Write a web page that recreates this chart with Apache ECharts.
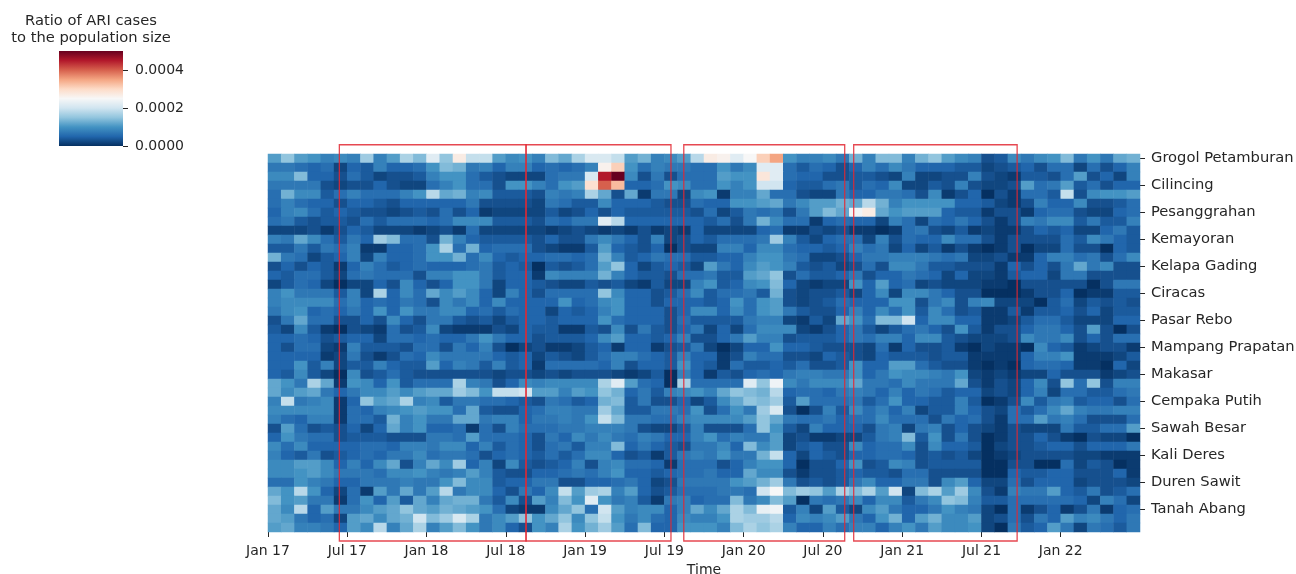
<!DOCTYPE html>
<html>
<head>
<meta charset="utf-8">
<title>ARI cases heatmap</title>
<script src="https://cdn.jsdelivr.net/npm/echarts@6/dist/echarts.min.js"></script>
<style>
  html, body { margin: 0; padding: 0; background: #fff; }
  #chart { width: 1296px; height: 574px; }
</style>
</head>
<body>
<div id="chart"></div>
<script>
// tick labels
const monthLabels = ["Jan 17", "Jul 17", "Jan 18", "Jul 18", "Jan 19", "Jul 19", "Jan 20", "Jul 20", "Jan 21", "Jul 21", "Jan 22"];
const rowLabels = ["Grogol Petamburan", "Cilincing", "Pesanggrahan", "Kemayoran", "Kelapa Gading", "Ciracas", "Pasar Rebo", "Mampang Prapatan", "Makasar", "Cempaka Putih", "Sawah Besar", "Kali Deres", "Duren Sawit", "Tanah Abang"];
const colorTicks = [0, 0.0002, 0.0004];
const rdBu = ["#053061", "#2166ac", "#4393c3", "#92c5de", "#d1e5f0", "#f7f7f7", "#fddbc7", "#f4a582", "#d6604d", "#b2182b", "#67001f"];

// red boxes, in month columns from Jan 17
const boxStart = [5.4, 19.53, 31.47, 44.33];
const boxEnd = [19.53, 30.5, 43.65, 56.7];

// one list per district, one value per month, in units of 1e-5
const r0 = [11,15,11,10,8,9,8,16,8,11,17,14,22,15,27,19,19,11,9,10,8,14, 12,17,21,21,19,11,13,8,9,11,18,27,26,22,25,31,35,10,8,8,9,7, 13,8,14,14,8,13,15,11,9,8,3,4,9,7,9,10,14,7,10,7,12,13];
const r1 = [7,7,6,5,6,2,5,4,8,5,5,6,10,14,13,7,8,5,8,8,5,6, 5,6,8,26,31,10,6,8,7,7,6,6,10,7,9,22,22,6,4,6,5,3, 5,8,6,9,7,5,5,5,4,4,2,3,4,5,3,6,6,2,6,3,5,8];
const r2 = [9,9,14,5,5,3,6,4,2,3,3,4,8,10,10,6,4,3,2,2,2,6, 7,7,21,45,50,9,3,7,3,6,6,6,11,10,10,28,22,6,5,5,3,3, 4,4,3,2,8,2,2,3,3,8,3,2,1,4,4,3,6,11,3,5,2,8];
const r3 = [7,7,7,7,3,2,3,3,5,3,2,2,6,8,10,6,6,3,10,10,8,6, 10,11,29,40,33,5,5,6,10,9,6,6,10,8,10,20,20,5,4,4,6,7, 4,6,5,9,2,2,4,3,8,3,2,2,3,11,6,7,11,4,6,3,5,5];
const r4 = [6,13,9,9,4,6,8,6,6,6,8,10,18,12,13,8,9,4,4,4,3,8, 7,8,17,12,3,12,1,7,7,2,9,10,1,8,8,12,6,6,3,2,2,7, 5,5,7,7,6,3,9,1,3,5,0,3,1,6,6,4,19,3,9,10,10,11];
const r5 = [6,8,6,5,5,3,5,5,4,3,5,5,5,5,5,7,3,3,3,3,2,7, 6,4,4,9,5,5,5,4,3,3,6,5,5,10,10,11,12,7,9,11,11,13, 12,18,13,8,10,10,10,10,5,5,4,2,1,3,8,5,5,9,3,3,4,6];
const r6 = [5,8,9,6,4,5,4,3,3,2,3,4,3,6,3,5,1,2,2,2,2,4, 2,3,5,3,5,4,4,4,4,4,3,6,2,4,7,6,7,3,7,11,14,12, 24,27,12,10,11,11,11,5,4,4,1,3,3,1,5,6,6,3,2,2,5,6];
const r7 = [6,7,4,3,4,4,3,6,4,6,6,6,5,6,9,9,9,4,4,4,3,6, 5,7,7,22,18,5,5,5,5,5,5,4,6,3,7,13,9,6,6,1,5,6, 5,5,2,8,6,2,6,5,7,5,3,1,3,8,7,9,9,4,7,4,4,8];
const r8 = [2,2,2,3,1,3,5,4,2,2,2,1,2,3,1,6,2,2,2,2,2,1, 2,3,2,1,2,1,3,1,2,1,5,2,2,2,2,5,6,1,1,3,2,3, 1,1,0,1,6,7,3,2,4,1,2,1,1,3,5,4,5,2,2,5,7,4];
const r9 = [8,7,12,9,6,4,7,5,16,14,6,6,3,13,8,5,4,4,4,4,3,5, 3,3,7,9,7,5,3,8,2,3,5,4,6,6,6,7,16,8,4,2,5,6, 6,2,8,3,6,5,5,9,6,6,3,1,3,3,3,3,6,4,9,7,5,4];
const r10 = [4,4,7,4,7,6,8,1,1,5,5,6,10,17,6,13,5,6,6,6,3,2, 1,1,4,11,5,4,3,5,0,3,2,2,8,8,5,9,9,6,5,5,4,5, 8,6,7,2,5,2,4,1,3,1,0,1,3,0,2,2,6,3,3,0,5,4];
const r11 = [13,7,6,2,4,5,8,2,8,5,5,6,10,10,13,6,9,5,4,5,5,6, 6,5,6,13,8,4,5,7,6,6,4,4,5,5,8,10,10,7,6,2,2,3, 5,7,7,8,8,8,7,6,7,2,2,3,1,1,5,8,8,6,7,3,6,9];
const r12 = [3,5,3,5,4,1,5,8,6,4,5,6,5,5,5,6,7,4,5,4,0,4, 3,4,6,11,15,5,2,4,5,4,2,11,7,5,9,11,10,8,4,3,4,2, 3,6,3,9,9,7,4,4,3,3,3,1,5,3,5,3,7,12,7,9,3,3];
const r13 = [5,4,6,6,4,2,6,7,6,6,6,3,8,8,10,10,7,4,5,5,1,9, 8,8,8,13,8,5,4,4,3,6,6,7,4,4,11,12,15,3,6,4,4,5, 7,3,5,5,7,6,5,2,5,2,2,1,4,5,5,2,7,7,3,3,3,3];
const r14 = [2,4,6,5,2,0,2,2,5,3,9,5,3,5,10,10,7,2,5,5,4,3, 2,2,4,3,4,2,1,4,2,2,8,10,4,5,9,10,14,5,2,1,2,2, 10,5,11,5,6,2,3,2,2,2,1,1,0,3,3,3,3,3,0,3,7,7];
const r15 = [8,10,7,7,7,4,8,2,17,5,9,6,12,9,11,9,5,2,8,5,3,6, 6,6,6,15,9,5,5,3,4,6,9,4,6,6,7,4,13,3,2,3,3,4, 2,5,9,2,9,9,7,5,3,3,0,0,0,1,3,3,5,0,1,1,4,4];
const r16 = [8,9,9,9,9,6,8,5,6,5,7,6,3,9,7,9,5,9,5,5,5,5, 10,5,6,9,10,5,5,3,5,5,5,4,5,10,6,10,11,3,2,3,4,6, 5,5,5,10,10,3,7,9,3,8,9,2,2,2,0,4,6,2,4,3,4,3];
const r17 = [7,9,10,5,6,5,7,5,10,5,10,7,7,9,9,5,6,4,6,5,5,2, 5,4,5,8,10,5,5,5,3,5,9,9,5,9,6,10,11,7,4,3,3,5, 8,5,9,6,10,4,9,6,3,4,1,1,4,1,4,4,5,3,5,2,4,4];
const r18 = [3,7,12,6,6,3,3,5,3,9,5,3,7,7,4,3,4,2,4,5,5,4, 5,5,5,10,6,5,5,5,3,6,4,4,4,4,7,8,8,2,1,4,2,12, 10,6,14,14,20,5,9,9,5,5,1,1,2,4,6,6,4,2,2,2,5,5];
const r19 = [4,2,9,4,1,0,3,2,1,6,3,4,9,2,1,1,1,3,2,5,4,4, 1,1,4,3,9,3,7,4,3,5,7,2,5,2,6,9,9,9,2,1,3,5, 7,4,2,4,6,7,5,3,10,4,1,3,3,5,7,7,5,3,11,3,0,3];
const r20 = [5,5,6,5,3,4,5,5,2,6,6,5,6,5,5,7,10,7,5,5,3,4, 4,4,5,9,11,5,5,4,5,8,3,3,5,7,11,8,8,3,4,4,4,5, 7,6,8,8,5,9,9,4,3,2,2,2,3,9,7,7,9,3,5,3,6,6];
const r21 = [5,3,6,6,2,1,8,4,4,4,3,6,6,3,7,5,8,3,0,2,3,1, 1,2,4,5,1,5,5,1,3,4,7,2,0,2,5,5,10,5,5,4,3,3, 3,2,6,1,5,3,3,4,1,0,2,1,1,0,9,5,4,1,2,3,3,1];
const r22 = [5,5,5,5,1,2,7,3,1,3,6,5,9,7,7,7,7,5,4,5,2,4, 3,2,4,6,8,8,6,5,4,8,5,5,1,3,8,6,6,3,3,2,5,4, 3,2,5,4,4,4,3,4,4,1,1,1,1,5,8,8,10,1,1,1,2,4];
const r23 = [5,5,10,4,8,2,4,4,8,5,4,4,11,5,8,7,4,8,4,5,1,6, 6,6,6,5,8,3,5,5,4,10,5,4,1,6,4,4,5,4,6,3,3,4, 10,5,5,11,11,6,4,3,3,1,0,1,0,5,6,6,5,1,1,0,5,2];
const r24 = [5,4,9,4,2,0,9,3,4,6,4,3,3,3,3,3,3,2,3,3,2,3, 2,3,3,3,2,1,2,4,0,8,5,1,4,3,5,6,5,7,8,8,7,7, 10,5,7,10,9,9,8,7,10,2,1,2,1,2,2,5,3,3,3,1,2,3];
const r25 = [12,10,7,17,12,1,10,9,5,10,4,6,6,6,17,8,7,3,5,9,8,9, 9,9,9,17,22,11,6,5,0,17,6,6,6,6,22,15,24,9,7,9,9,9, 12,7,7,6,9,7,7,7,12,3,1,3,2,5,9,3,15,6,15,3,8,8];
const r26 = [12,9,11,12,7,5,7,9,9,11,9,11,12,12,16,14,10,19,19,20,11,11, 8,11,10,15,13,5,7,4,8,9,10,8,12,15,14,13,18,5,6,6,5,7, 8,7,5,8,5,7,6,4,5,5,2,3,2,5,8,2,6,6,4,4,6,7];
const r27 = [8,19,7,8,9,1,5,15,11,12,17,8,9,4,7,7,6,6,5,4,3,7, 6,4,5,13,14,4,7,3,3,5,2,4,9,12,15,14,16,4,11,6,6,6, 7,4,6,10,5,5,4,4,8,4,0,1,3,9,4,7,8,4,5,5,3,6];
const r28 = [9,9,9,9,9,1,6,5,8,9,10,11,10,10,6,12,4,3,3,5,6,8, 8,7,7,16,12,4,4,7,7,6,10,3,6,10,7,16,21,3,0,3,8,4, 9,6,8,5,8,2,4,4,8,5,3,2,6,4,6,9,12,8,7,7,8,8];
const r29 = [8,6,5,8,8,1,6,6,4,13,8,10,7,7,12,12,7,8,8,5,7,7, 8,7,10,19,14,7,7,6,6,8,9,9,9,9,11,15,12,7,6,6,7,5, 6,6,9,6,6,6,3,7,5,6,3,1,6,6,11,7,8,6,3,3,3,6];
const r30 = [3,11,6,3,4,3,5,2,5,12,8,10,5,5,6,1,6,3,8,6,6,6, 7,7,8,8,8,7,3,2,2,4,8,3,3,3,6,15,10,4,2,8,5,5, 5,3,7,8,2,7,8,3,5,3,2,1,3,2,2,2,7,4,4,6,6,11];
const r31 = [5,10,7,6,6,3,4,4,4,3,3,3,7,7,6,11,6,6,6,5,3,7, 5,9,7,9,7,6,8,7,5,5,8,10,6,8,7,7,11,2,3,1,1,2, 2,4,7,8,14,4,10,3,7,3,0,1,3,3,5,3,1,0,3,2,2,0];
const r32 = [9,6,9,5,5,5,5,6,6,5,8,8,7,9,9,5,8,4,6,5,3,6, 7,4,8,8,14,5,7,5,4,3,7,7,9,5,14,9,11,2,4,5,3,3, 9,5,6,6,9,3,9,5,5,4,0,2,3,3,4,5,5,3,5,5,5,7];
const r33 = [8,5,4,7,3,4,5,6,5,7,7,9,6,7,7,6,3,5,6,5,4,6, 4,6,9,9,5,3,4,1,4,7,8,7,10,7,7,13,19,5,2,5,4,3, 5,5,6,6,5,3,4,3,4,2,0,1,2,3,3,3,3,2,2,1,1,1];
const r34 = [9,9,11,11,9,5,8,5,9,12,3,8,12,9,16,5,8,2,9,4,3,4, 5,8,3,8,9,6,6,5,1,6,6,6,3,5,8,10,10,5,0,3,3,5, 10,3,4,9,8,3,4,4,4,4,0,0,3,3,0,0,6,2,4,3,0,1];
const r35 = [9,9,10,11,9,7,7,7,6,9,9,10,8,7,8,11,8,4,3,3,5,5, 6,7,6,8,10,5,5,4,5,6,6,7,5,5,12,9,9,3,1,3,3,4, 5,4,4,3,6,6,3,3,3,3,0,0,5,4,4,5,5,3,3,3,5,1];
const r36 = [6,6,10,8,7,5,5,7,7,7,8,7,7,10,14,9,9,4,5,5,7,7, 3,3,5,5,6,7,5,2,3,7,7,7,7,10,11,13,16,7,3,4,3,4, 7,9,5,5,7,7,3,9,11,5,2,2,6,3,5,5,5,2,3,3,3,2];
const r37 = [12,10,18,10,5,2,6,1,11,7,12,7,11,18,7,9,9,5,3,7,5,9, 19,11,16,17,8,11,5,3,4,6,6,6,7,7,6,20,25,14,16,15,11,17, 14,17,11,20,2,14,17,11,16,9,3,1,8,7,7,11,5,4,7,3,4,6];
const r38 = [14,10,11,7,7,1,6,10,5,11,4,12,8,12,13,13,7,4,9,3,11,8, 14,10,22,10,7,8,4,1,7,8,5,6,6,14,7,9,14,11,0,7,6,7, 9,5,9,9,4,7,9,15,14,8,4,4,6,6,6,6,6,5,2,8,6,2];
const r39 = [12,9,18,5,11,7,7,9,11,12,15,12,11,13,12,11,10,6,2,1,1,9, 12,15,6,20,11,8,9,9,5,8,12,9,12,17,14,23,24,4,8,2,11,4, 2,9,11,7,5,5,7,10,8,7,2,0,6,1,3,5,1,3,7,1,5,6];
const r40 = [12,11,7,5,6,2,11,12,9,12,13,20,14,16,21,17,7,9,11,15,10,12, 15,9,15,19,10,7,9,6,5,9,8,8,10,17,16,16,18,5,9,8,9,11, 7,5,10,13,5,11,13,9,9,11,2,3,6,3,7,5,11,8,9,7,5,7];
const r41 = [11,12,8,8,7,5,11,9,18,8,12,17,8,11,14,10,7,9,5,3,10,8, 17,10,13,16,11,6,14,5,5,10,10,10,8,14,17,15,17,8,5,5,8,6, 8,8,5,8,10,7,11,9,9,10,2,0,7,4,5,11,7,2,7,6,4,7];

const allRows = [r0, r1, r2, r3, r4, r5, r6, r7, r8, r9, r10, r11, r12, r13, r14, r15, r16, r17, r18, r19, r20, r21, r22, r23, r24, r25, r26, r27, r28, r29, r30, r31, r32, r33, r34, r35, r36, r37, r38, r39, r40, r41];

const nCols = r0.length;
const nRows = allRows.length;
const textColor = "#262626";
const fontFamily = "DejaVu Sans";

const heatData = [];
allRows.forEach((row, y) => {
    row.forEach((v, x) => heatData.push([x, y, v / 1e5]));
});

const monthTicks = monthLabels.map((_, i) => i * 6);
const rowTicks = rowLabels.map((_, i) => i * 3 + 0.5);

const chart = echarts.init(document.getElementById("chart"));
chart.setOption({
    animation: false,
    textStyle: { fontFamily: fontFamily, color: textColor },
    title: {
        text: "Ratio of ARI cases\nto the population size",
        left: 86,
        top: 8,
        textAlign: "center",
        textStyle: { fontFamily: fontFamily, fontWeight: "normal", fontSize: 14.7, lineHeight: 17, color: textColor },
    },
    grid: [
        { left: 268, top: 154, width: 872, height: 378, outerBoundsMode: "none" },
        { left: 59, top: 51, width: 64, height: 95, outerBoundsMode: "none" },
    ],
    xAxis: [
        { type: "category", gridIndex: 0, position: "top", show: false, data: r0.map((_, i) => i) },
        {
            type: "value",
            gridIndex: 0,
            position: "bottom",
            min: 0,
            max: nCols,
            name: "Time",
            nameLocation: "middle",
            nameGap: 30,
            nameTextStyle: { fontSize: 14, color: textColor },
            splitLine: { show: false },
            axisLine: { show: false, onZero: false },
            axisTick: { show: true, length: 5, customValues: monthTicks, lineStyle: { color: textColor } },
            axisLabel: {
                fontSize: 14,
                color: textColor,
                margin: 12,
                customValues: monthTicks,
                formatter: (v) => monthLabels[v / 6],
            },
        },
        { type: "value", gridIndex: 1, show: false, min: 0, max: 1 },
    ],
    yAxis: [
        { type: "category", gridIndex: 0, position: "left", inverse: true, show: false, data: allRows.map((_, i) => i) },
        {
            type: "value",
            gridIndex: 0,
            position: "right",
            inverse: true,
            min: 0,
            max: nRows,
            splitLine: { show: false },
            axisLine: { show: false, onZero: false },
            axisTick: { show: true, length: 5, customValues: rowTicks, lineStyle: { color: textColor } },
            axisLabel: {
                fontSize: 14.7,
                color: textColor,
                margin: 11,
                padding: [4, 0, 0, 0],
                customValues: rowTicks,
                formatter: (v) => rowLabels[(v - 0.5) / 3],
            },
        },
        {
            type: "value",
            gridIndex: 1,
            position: "right",
            min: 0,
            max: 0.0005,
            splitLine: { show: false },
            axisLine: { show: false, onZero: false },
            axisTick: { show: true, length: 5, customValues: colorTicks, lineStyle: { color: textColor } },
            axisLabel: {
                fontSize: 14,
                color: textColor,
                margin: 12,
                padding: [4, 0, 0, 0],
                customValues: colorTicks,
                formatter: (v) => v.toFixed(4),
            },
        },
    ],
    visualMap: {
        type: "continuous",
        seriesIndex: 0,
        min: 0,
        max: 0.0005,
        show: false,
        inRange: { color: rdBu },
    },
    // colour bar, the axis of grid 1 gives its ticks
    graphic: {
        type: "rect",
        shape: { x: 59, y: 51, width: 64, height: 95 },
        style: {
            fill: new echarts.graphic.LinearGradient(0, 1, 0, 0, rdBu.map((color, i) => ({ offset: i / (rdBu.length - 1), color: color }))),
        },
    },
    series: [
        {
            type: "heatmap",
            xAxisIndex: 0,
            yAxisIndex: 0,
            data: heatData,
            progressive: 0,
        },
        {
            type: "custom",
            xAxisIndex: 1,
            yAxisIndex: 1,
            z: 10,
            clip: false,
            silent: true,
            data: boxStart.map((s, i) => [s, boxEnd[i]]),
            renderItem: (params, api) => {
                const p0 = api.coord([api.value(0), -1.03]);
                const p1 = api.coord([api.value(1), nRows + 1]);
                return {
                    type: "rect",
                    shape: { x: p0[0], y: p0[1], width: p1[0] - p0[0], height: p1[1] - p0[1] },
                    style: { fill: "none", stroke: "rgba(226,40,50,0.85)", lineWidth: 1.3 },
                };
            },
        },
    ],
});
</script>
</body>
</html>
